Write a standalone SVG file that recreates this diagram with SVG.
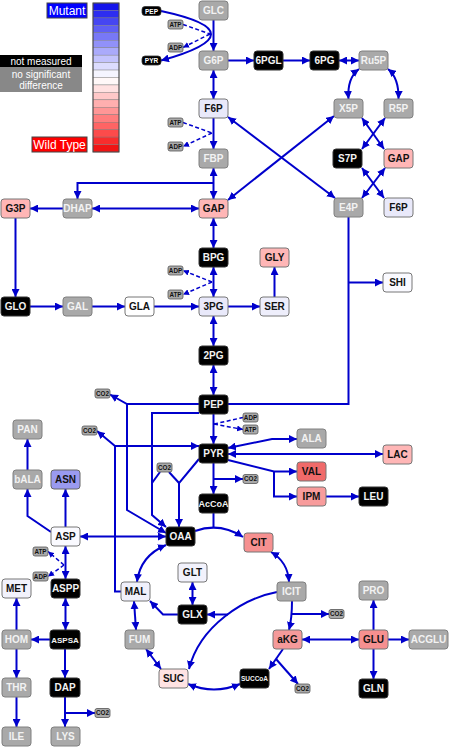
<svg xmlns="http://www.w3.org/2000/svg" width="450" height="747" viewBox="0 0 450 747">
<style>
.bg{fill:#ffffff}
rect.g{fill:#a9a9a9;stroke:#808080}
rect.k{fill:#000000;stroke:#333}
rect.l{fill:#e9e9fa;stroke:#777}
rect.w{fill:#fafaff;stroke:#777}
rect.p{fill:#ffb6b6;stroke:#777}
rect.s{fill:#f69090;stroke:#777}
rect.r{fill:#f06a6a;stroke:#777}
rect.sp{fill:#ffe3e3;stroke:#777}
rect.b{fill:#9a9af0;stroke:#666}
rect.sm{fill:#a9a9a9;stroke:#555;stroke-width:0.8}
rect.smk{fill:#000;stroke:#333;stroke-width:0.8}
text{font-family:"Liberation Sans",Arial,sans-serif;text-anchor:middle}
text.t{font-size:10px;font-weight:bold}
text.tw{fill:#f2f2f2}
text.td{fill:#111}
text.tiny{font-size:6.3px;font-weight:bold;fill:#111}
text.tinyw{font-size:6.5px;font-weight:bold;fill:#fff}
.c{fill:none;stroke:#0000cc;stroke-width:2}
.d{fill:none;stroke:#0000cc;stroke-width:1.5;stroke-dasharray:4 2.5}
.e{marker-end:url(#ah)}
.be{marker-start:url(#ah);marker-end:url(#ah)}
.de{marker-end:url(#ahs)}
</style>
<defs>
<marker id="ah" viewBox="0 0 10 10" refX="10" refY="5" markerWidth="8" markerHeight="8" markerUnits="userSpaceOnUse" orient="auto-start-reverse"><path d="M0,0 L10,5 L0,10 z" fill="#0000cc"/></marker>
<marker id="ahs" viewBox="0 0 10 10" refX="10" refY="5" markerWidth="6" markerHeight="6" markerUnits="userSpaceOnUse" orient="auto-start-reverse"><path d="M0,0 L10,5 L0,10 z" fill="#0000cc"/></marker>
</defs>
<rect class="bg" x="0" y="0" width="450" height="747"/>

<g id="legend">
<rect x="47" y="3" width="40" height="15" fill="#0000ff" stroke="#444"/>
<text x="67" y="15" font-size="12" fill="#fff">Mutant</text>
<rect x="32" y="137" width="55" height="15" fill="#ff0000" stroke="#444"/>
<text x="59.5" y="149" font-size="12" fill="#fff">Wild Type</text>
<rect x="0" y="55" width="82" height="12" fill="#000"/>
<text x="41" y="65" font-size="10" fill="#fff">not measured</text>
<rect x="0" y="67" width="82" height="25" fill="#888"/>
<text x="41" y="77.5" font-size="10" fill="#fff">no significant</text>
<text x="41" y="89" font-size="10" fill="#fff">difference</text>
<g stroke="#777" stroke-width="0.4">
<rect x="93" y="3" width="26" height="7.45" fill="rgb(20,20,235)"/>
<rect x="93" y="10.45" width="26" height="7.45" fill="rgb(45,45,240)"/>
<rect x="93" y="17.9" width="26" height="7.45" fill="rgb(70,70,242)"/>
<rect x="93" y="25.35" width="26" height="7.45" fill="rgb(95,95,245)"/>
<rect x="93" y="32.8" width="26" height="7.45" fill="rgb(120,120,247)"/>
<rect x="93" y="40.25" width="26" height="7.45" fill="rgb(145,145,249)"/>
<rect x="93" y="47.7" width="26" height="7.45" fill="rgb(170,170,251)"/>
<rect x="93" y="55.15" width="26" height="7.45" fill="rgb(195,195,253)"/>
<rect x="93" y="62.6" width="26" height="7.45" fill="rgb(220,220,254)"/>
<rect x="93" y="70.05" width="26" height="7.45" fill="rgb(245,245,255)"/>
<rect x="93" y="77.5" width="26" height="7.45" fill="rgb(255,248,248)"/>
<rect x="93" y="84.95" width="26" height="7.45" fill="rgb(255,225,225)"/>
<rect x="93" y="92.4" width="26" height="7.45" fill="rgb(255,200,200)"/>
<rect x="93" y="99.85" width="26" height="7.45" fill="rgb(255,175,175)"/>
<rect x="93" y="107.3" width="26" height="7.45" fill="rgb(255,150,150)"/>
<rect x="93" y="114.75" width="26" height="7.45" fill="rgb(255,125,125)"/>
<rect x="93" y="122.2" width="26" height="7.45" fill="rgb(255,100,100)"/>
<rect x="93" y="129.65" width="26" height="7.45" fill="rgb(252,75,75)"/>
<rect x="93" y="137.1" width="26" height="7.45" fill="rgb(248,45,45)"/>
<rect x="93" y="144.55" width="26" height="7.45" fill="rgb(240,20,20)"/>
</g>
<rect x="93" y="3" width="26" height="149" fill="none" stroke="#444" stroke-width="1"/>
</g>

<g id="connectors">
<path class="c e" d="M213.5,20 V51"/>
<path class="c e" d="M161,11 Q261,32.5 161,60.5"/>
<path class="d" d="M183,24.5 L210,34"/>
<path class="d de" d="M210,34 L183,47.5"/>
<path class="c be" d="M213.5,70 V99"/>
<path class="c e" d="M213.5,118 V149"/>
<path class="d" d="M183,122.5 L212,133"/>
<path class="d de" d="M212,133 L183,146.5"/>
<path class="c be" d="M213.5,168 V199"/>
<path class="c e" d="M213.5,183 H77.5 V199"/>
<path class="c be" d="M213.5,218 V248"/>
<path class="c be" d="M213.5,267 V297"/>
<path class="d de" d="M212,282 L183,270.5"/>
<path class="d de" d="M212,282 L183,294.5"/>
<path class="c be" d="M213.5,316 V346"/>
<path class="c be" d="M213.5,365 V395"/>
<path class="c e" d="M213.5,414 V444"/>
<path class="d" d="M214,424 L243,417.5"/>
<path class="d de" d="M214,424 L243,429.5"/>
<path class="c e" d="M213.5,463 V494"/>
<path class="c e" d="M213.5,479 H243"/>
<path class="c" d="M213.5,513 V527"/>
<path class="c e" d="M195,531 Q220,522 243,537"/>

<path class="c e" d="M228,60.5 H254"/>
<path class="c e" d="M283,60.5 H310"/>
<path class="c be" d="M339,60.5 H359"/>
<path class="c be" d="M359,69 Q347,78 348.5,99"/>
<path class="c be" d="M388,69 Q399,78 398.5,99"/>
<path class="c be" d="M362,118 L384,149"/>
<path class="c be" d="M385,118 L362,149"/>
<path class="c be" d="M362,168 L384,198"/>
<path class="c be" d="M385,168 L362,198"/>
<path class="c be" d="M334,116 L228,200"/>
<path class="c be" d="M228,117 L335,198"/>

<path class="c be" d="M92,208.5 H199"/>
<path class="c e" d="M63,208.5 H30"/>
<path class="c e" d="M15.5,218 V297"/>
<path class="c e" d="M30,306.5 H63"/>
<path class="c e" d="M92,306.5 H125"/>
<path class="c e" d="M154,306.5 H199"/>
<path class="c e" d="M228,306.5 H260"/>
<path class="c e" d="M274.5,297 V267"/>
<path class="c" d="M348.5,217 V404 H228"/>
<path class="c e" d="M348.5,282.5 H383"/>

<path class="c e" d="M199,404 H127 L110,394.5"/>
<path class="c e" d="M127,404 V510 L166,533"/>
<path class="c e" d="M199,413 H152 V515 L166,527"/>
<path class="c" d="M160,472 L152,483"/>
<path class="c" d="M169,472 L179,483"/>
<path class="c e" d="M199,459 L179,483 V527"/>
<path class="c e" d="M121,591.5 H115 V446 H199"/>
<path class="c e" d="M115,446 L97,431"/>

<path class="c be" d="M228,448 L272,439 H297"/>
<path class="c be" d="M228,454 H383"/>
<path class="c e" d="M228,460 L274,471.5 H297"/>
<path class="c e" d="M274,471.5 V496.5 H297"/>
<path class="c e" d="M326,496.5 H359"/>

<path class="c be" d="M80,536.5 H166"/>
<path class="c be" d="M166,545 Q140,556 137,582"/>
<path class="c be" d="M271,552 Q288,562 289,582"/>
<path class="c e" d="M292,601 Q292,618 289,630"/>
<path class="c e" d="M292,614 H329"/>
<path class="c e" d="M277,592 C245,598 200,625 189,669"/>
<path class="c e" d="M228,614.5 H207"/>
<path class="c be" d="M192.5,582 V605"/>
<path class="c e" d="M178,614.5 H163 L150,601"/>
<path class="c be" d="M134,601 L136,630"/>
<path class="c be" d="M146,649 L161,669"/>
<path class="c be" d="M188,684 Q214,695 240,684"/>
<path class="c e" d="M283,649 L269,669"/>
<path class="c e" d="M276,659 L298,684"/>
<path class="c be" d="M302,639.5 H359"/>
<path class="c e" d="M373.5,630 V600"/>
<path class="c e" d="M388,639.5 H409"/>
<path class="c e" d="M373.5,649 V679"/>

<path class="c e" d="M65.5,527 V489"/>
<path class="c e" d="M51,532 L27.5,516 V489"/>
<path class="c e" d="M27.5,470 V439"/>
<path class="c be" d="M65.5,546 V579"/>
<path class="d de" d="M64,565 L48,551.5"/>
<path class="d de" d="M64,565 L48,576.5"/>
<path class="c be" d="M65.5,598 V630"/>
<path class="c e" d="M50,639.5 H31"/>
<path class="c e" d="M16.5,630 V598"/>
<path class="c e" d="M16.5,649 V678"/>
<path class="c e" d="M16.5,697 V727"/>
<path class="c e" d="M65,649 V678"/>
<path class="c e" d="M65,697 V727"/>
<path class="c e" d="M65,713 H95"/>
</g>

<g id="cofactors">
<g id="c-PEPs"><rect class="smk" x="142" y="6.5" width="19" height="9" rx="3"/><text class="tinyw" x="151.5" y="13.5">PEP</text></g>
<g id="c-PYRs"><rect class="smk" x="142" y="56" width="19" height="9" rx="3"/><text class="tinyw" x="151.5" y="63">PYR</text></g>
<g id="c-ATP1"><rect class="sm" x="168" y="20" width="15" height="9" rx="2"/><text class="tiny" x="175.5" y="26.7">ATP</text></g>
<g id="c-ADP1"><rect class="sm" x="168" y="43" width="15" height="9" rx="2"/><text class="tiny" x="175.5" y="49.7">ADP</text></g>
<g id="c-ATP2"><rect class="sm" x="168" y="118" width="15" height="9" rx="2"/><text class="tiny" x="175.5" y="124.7">ATP</text></g>
<g id="c-ADP2"><rect class="sm" x="168" y="142" width="15" height="9" rx="2"/><text class="tiny" x="175.5" y="148.7">ADP</text></g>
<g id="c-ADP3"><rect class="sm" x="168" y="266" width="15" height="9" rx="2"/><text class="tiny" x="175.5" y="272.7">ADP</text></g>
<g id="c-ATP3"><rect class="sm" x="168" y="290" width="15" height="9" rx="2"/><text class="tiny" x="175.5" y="296.7">ATP</text></g>
<g id="c-ADP4"><rect class="sm" x="243" y="413" width="15" height="9" rx="2"/><text class="tiny" x="250.5" y="419.7">ADP</text></g>
<g id="c-ATP4"><rect class="sm" x="243" y="425" width="15" height="9" rx="2"/><text class="tiny" x="250.5" y="431.7">ATP</text></g>
<g id="c-ATP5"><rect class="sm" x="33" y="547" width="15" height="9" rx="2"/><text class="tiny" x="40.5" y="553.7">ATP</text></g>
<g id="c-ADP5"><rect class="sm" x="33" y="572" width="15" height="9" rx="2"/><text class="tiny" x="40.5" y="578.7">ADP</text></g>
<g id="c-CO2a"><rect class="sm" x="95" y="389" width="15" height="9" rx="2"/><text class="tiny" x="102.5" y="395.7">CO2</text></g>
<g id="c-CO2b"><rect class="sm" x="82" y="426" width="15" height="9" rx="2"/><text class="tiny" x="89.5" y="432.7">CO2</text></g>
<g id="c-CO2c"><rect class="sm" x="157" y="463" width="15" height="9" rx="2"/><text class="tiny" x="164.5" y="469.7">CO2</text></g>
<g id="c-CO2d"><rect class="sm" x="243" y="474.5" width="15" height="9" rx="2"/><text class="tiny" x="250.5" y="481.2">CO2</text></g>
<g id="c-CO2e"><rect class="sm" x="329" y="609.5" width="15" height="9" rx="2"/><text class="tiny" x="336.5" y="616.2">CO2</text></g>
<g id="c-CO2f"><rect class="sm" x="295" y="684" width="15" height="9" rx="2"/><text class="tiny" x="302.5" y="690.7">CO2</text></g>
<g id="c-CO2g"><rect class="sm" x="95" y="708.5" width="15" height="9" rx="2"/><text class="tiny" x="102.5" y="715.2">CO2</text></g>
</g>

<g id="n-GLC"><rect class="g" x="199" y="1" width="29" height="19" rx="3"/><text class="t tw" x="213.5" y="14">GLC</text></g>
<g id="n-G6P"><rect class="g" x="199" y="51" width="29" height="19" rx="3"/><text class="t tw" x="213.5" y="64">G6P</text></g>
<g id="n-F6P"><rect class="l" x="199" y="99" width="29" height="19" rx="3"/><text class="t td" x="213.5" y="112">F6P</text></g>
<g id="n-FBP"><rect class="g" x="199" y="149" width="29" height="19" rx="3"/><text class="t tw" x="213.5" y="162">FBP</text></g>
<g id="n-GAP"><rect class="p" x="199" y="199" width="29" height="19" rx="3"/><text class="t td" x="213.5" y="212">GAP</text></g>
<g id="n-BPG"><rect class="k" x="199" y="248" width="29" height="19" rx="3"/><text class="t tw" x="213.5" y="261">BPG</text></g>
<g id="n-3PG"><rect class="l" x="199" y="297" width="29" height="19" rx="3"/><text class="t td" x="213.5" y="310">3PG</text></g>
<g id="n-2PG"><rect class="k" x="199" y="346" width="29" height="19" rx="3"/><text class="t tw" x="213.5" y="359">2PG</text></g>
<g id="n-PEP"><rect class="k" x="199" y="395" width="29" height="19" rx="3"/><text class="t tw" x="213.5" y="408">PEP</text></g>
<g id="n-PYR"><rect class="k" x="199" y="444" width="29" height="19" rx="3"/><text class="t tw" x="213.5" y="457">PYR</text></g>
<g id="n-AcCoA"><rect class="k" x="199" y="494" width="29" height="19" rx="3"/><text class="t tw" x="213.5" y="507" style="font-size:9px">AcCoA</text></g>
<g id="n-OAA"><rect class="k" x="166" y="527" width="29" height="19" rx="3"/><text class="t tw" x="180.5" y="540">OAA</text></g>
<g id="n-6PGL"><rect class="k" x="254" y="51" width="29" height="19" rx="3"/><text class="t tw" x="268.5" y="64">6PGL</text></g>
<g id="n-6PG"><rect class="k" x="310" y="51" width="29" height="19" rx="3"/><text class="t tw" x="324.5" y="64">6PG</text></g>
<g id="n-Ru5P"><rect class="g" x="359" y="51" width="29" height="19" rx="3"/><text class="t tw" x="373.5" y="64">Ru5P</text></g>
<g id="n-X5P"><rect class="g" x="334" y="99" width="29" height="19" rx="3"/><text class="t tw" x="348.5" y="112">X5P</text></g>
<g id="n-R5P"><rect class="g" x="384" y="99" width="29" height="19" rx="3"/><text class="t tw" x="398.5" y="112">R5P</text></g>
<g id="n-S7P"><rect class="k" x="333" y="149" width="29" height="19" rx="3"/><text class="t tw" x="347.5" y="162">S7P</text></g>
<g id="n-GAP2"><rect class="p" x="384" y="149" width="29" height="19" rx="3"/><text class="t td" x="398.5" y="162">GAP</text></g>
<g id="n-E4P"><rect class="g" x="334" y="198" width="29" height="19" rx="3"/><text class="t tw" x="348.5" y="211">E4P</text></g>
<g id="n-F6P2"><rect class="l" x="384" y="198" width="29" height="19" rx="3"/><text class="t td" x="398.5" y="211">F6P</text></g>
<g id="n-DHAP"><rect class="g" x="63" y="199" width="29" height="19" rx="3"/><text class="t tw" x="77.5" y="212">DHAP</text></g>
<g id="n-G3P"><rect class="p" x="1" y="199" width="29" height="19" rx="3"/><text class="t td" x="15.5" y="212">G3P</text></g>
<g id="n-GLO"><rect class="k" x="1" y="297" width="29" height="19" rx="3"/><text class="t tw" x="15.5" y="310">GLO</text></g>
<g id="n-GAL"><rect class="g" x="63" y="297" width="29" height="19" rx="3"/><text class="t tw" x="77.5" y="310">GAL</text></g>
<g id="n-GLA"><rect class="w" x="125" y="297" width="29" height="19" rx="3" style="fill:#fff"/><text class="t td" x="139.5" y="310">GLA</text></g>
<g id="n-GLY"><rect class="p" x="260" y="248" width="29" height="19" rx="3"/><text class="t td" x="274.5" y="261">GLY</text></g>
<g id="n-SER"><rect class="l" x="260" y="297" width="29" height="19" rx="3" style="fill:#eeeefb"/><text class="t td" x="274.5" y="310">SER</text></g>
<g id="n-SHI"><rect class="w" x="383" y="273" width="29" height="19" rx="3"/><text class="t td" x="397.5" y="286">SHI</text></g>
<g id="n-ALA"><rect class="g" x="297" y="429" width="29" height="19" rx="3"/><text class="t tw" x="311.5" y="442">ALA</text></g>
<g id="n-LAC"><rect class="p" x="383" y="445" width="29" height="19" rx="3"/><text class="t td" x="397.5" y="458">LAC</text></g>
<g id="n-VAL"><rect class="r" x="297" y="462" width="29" height="19" rx="3"/><text class="t td" x="311.5" y="475">VAL</text></g>
<g id="n-IPM"><rect class="s" x="297" y="487" width="29" height="19" rx="3" style="fill:#f89c9c"/><text class="t td" x="311.5" y="500">IPM</text></g>
<g id="n-LEU"><rect class="k" x="359" y="487" width="29" height="19" rx="3"/><text class="t tw" x="373.5" y="500">LEU</text></g>
<g id="n-CIT"><rect class="s" x="244" y="533" width="29" height="19" rx="3"/><text class="t td" x="258.5" y="546">CIT</text></g>
<g id="n-PAN"><rect class="g" x="13" y="420" width="29" height="19" rx="3"/><text class="t tw" x="27.5" y="433">PAN</text></g>
<g id="n-bALA"><rect class="g" x="13" y="470" width="29" height="19" rx="3"/><text class="t tw" x="27.5" y="483">bALA</text></g>
<g id="n-ASN"><rect class="b" x="51" y="470" width="29" height="19" rx="3"/><text class="t td" x="65.5" y="483">ASN</text></g>
<g id="n-ASP"><rect class="w" x="51" y="527" width="29" height="19" rx="3"/><text class="t td" x="65.5" y="540">ASP</text></g>
<g id="n-MET"><rect class="l" x="2" y="579" width="29" height="19" rx="3" style="fill:#f2f2fc"/><text class="t td" x="16.5" y="592">MET</text></g>
<g id="n-ASPP"><rect class="k" x="51" y="579" width="29" height="19" rx="3"/><text class="t tw" x="65.5" y="592">ASPP</text></g>
<g id="n-HOM"><rect class="g" x="2" y="630" width="29" height="19" rx="3"/><text class="t tw" x="16.5" y="643">HOM</text></g>
<g id="n-ASPSA"><rect class="k" x="50" y="630" width="30" height="19" rx="3"/><text class="t tw" x="65" y="642.5" style="font-size:8px">ASPSA</text></g>
<g id="n-THR"><rect class="g" x="2" y="678" width="29" height="19" rx="3"/><text class="t tw" x="16.5" y="691">THR</text></g>
<g id="n-DAP"><rect class="k" x="50" y="678" width="30" height="19" rx="3"/><text class="t tw" x="65" y="691">DAP</text></g>
<g id="n-ILE"><rect class="g" x="2" y="727" width="29" height="19" rx="3"/><text class="t tw" x="16.5" y="740">ILE</text></g>
<g id="n-LYS"><rect class="g" x="51" y="727" width="29" height="19" rx="3"/><text class="t tw" x="65.5" y="740">LYS</text></g>
<g id="n-MAL"><rect class="l" x="121" y="582" width="29" height="19" rx="3" style="fill:#f0f0fb"/><text class="t td" x="135.5" y="595">MAL</text></g>
<g id="n-GLT"><rect class="l" x="178" y="563" width="29" height="19" rx="3" style="fill:#f2f2fc"/><text class="t td" x="192.5" y="576">GLT</text></g>
<g id="n-GLX"><rect class="k" x="178" y="605" width="29" height="19" rx="3"/><text class="t tw" x="192.5" y="618">GLX</text></g>
<g id="n-ICIT"><rect class="g" x="277" y="582" width="29" height="19" rx="3"/><text class="t tw" x="291.5" y="595">ICIT</text></g>
<g id="n-FUM"><rect class="g" x="125" y="630" width="29" height="19" rx="3"/><text class="t tw" x="139.5" y="643">FUM</text></g>
<g id="n-aKG"><rect class="s" x="273" y="630" width="29" height="19" rx="3" style="fill:#f59a9a"/><text class="t td" x="287.5" y="643">aKG</text></g>
<g id="n-SUC"><rect class="sp" x="159" y="669" width="29" height="19" rx="3"/><text class="t td" x="173.5" y="682">SUC</text></g>
<g id="n-SUCCoA"><rect class="k" x="240" y="669" width="29" height="19" rx="3"/><text class="t tw" x="254.5" y="680.8" style="font-size:6.5px">SUCCoA</text></g>
<g id="n-PRO"><rect class="g" x="359" y="581" width="29" height="19" rx="3"/><text class="t tw" x="373.5" y="594">PRO</text></g>
<g id="n-GLU"><rect class="s" x="359" y="630" width="29" height="19" rx="3"/><text class="t td" x="373.5" y="643">GLU</text></g>
<g id="n-ACGLU"><rect class="g" x="409" y="630" width="39" height="19" rx="3"/><text class="t tw" x="428.5" y="643">ACGLU</text></g>
<g id="n-GLN"><rect class="k" x="359" y="679" width="29" height="19" rx="3"/><text class="t tw" x="373.5" y="692">GLN</text></g>
</svg>
